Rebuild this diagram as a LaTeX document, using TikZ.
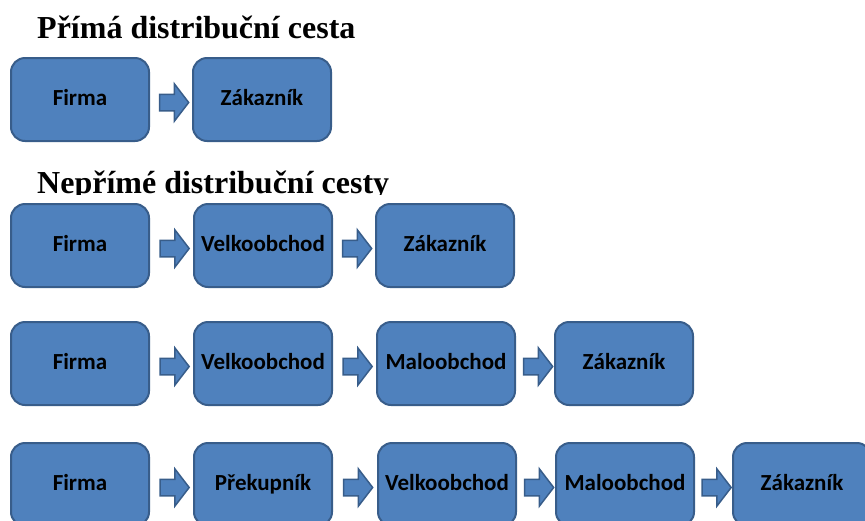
\documentclass[tikz,border=0pt]{standalone}
\usepackage{fontspec}
\setmainfont{Liberation Serif}
\newfontfamily\calibrifont{Carlito}
\usepackage{xcolor}
\usepackage{tikz}
\usetikzlibrary{
    positioning,
    calc,
    shapes.arrows
}
\definecolor{boxblue}{RGB}{79,129,189}
\definecolor{boxline}{RGB}{56,93,138}
\tikzset{
    block/.style={
        rectangle, draw=boxline, line width=2pt,
        fill=boxblue, rounded corners=14pt,
        minimum width=138pt, minimum height=83pt, align=center,
        text height=15pt, text depth=4pt,
        font=\calibrifont\bfseries\fontsize{23}{27}\selectfont
    },
    block_arrow/.style={
        single arrow, draw=boxline, line width=1.5pt, fill=boxblue,
        minimum height=29pt, inner sep=7.5pt,
        single arrow head extend=10.5pt, single arrow tip angle=105,
        yshift=-3pt
    },
    title_text/.style={
        anchor=base west, inner sep=0pt,
        font=\bfseries\fontsize{32}{38}\selectfont
    }
}

\begin{document}
\begin{tikzpicture}
    \clip (0,0) rectangle (865pt,-520pt);

    % Title
    \node[title_text] (title_direct) at (37pt,-38pt) {Přímá distribuční cesta};
    \begin{scope}
        \clip (0,-150pt) rectangle (865pt,-194pt);
        \node[title_text] (title_indirect) at (37pt,-193pt) {Nepřímé distribuční cesty};
    \end{scope}

    % Row 1
    \node[block] (firma1) at (80pt,-99.5pt) {Firma};
    \node[block, right=42pt of firma1] (zakaznik1) {Zákazník};

    % Row 2
    \node[block] (firma2) at (80pt,-245.5pt) {Firma};
    \node[block, right=43pt of firma2] (velko2) {Velkoobchod};
    \node[block, right=42pt of velko2] (zakaznik2) {Zákazník};

    % Row 3
    \node[block] (firma3) at (80pt,-363.5pt) {Firma};
    \node[block, right=43pt of firma3] (velko3) {Velkoobchod};
    \node[block, right=43pt of velko3] (malo3) {Maloobchod};
    \node[block, right=38pt of malo3] (zakaznik3) {Zákazník};

    % Row 4
    \node[block] (firma4) at (80pt,-484.5pt) {Firma};
    \node[block, right=43pt of firma4] (prekup4) {Překupník};
    \node[block, right=44pt of prekup4] (velko4) {Velkoobchod};
    \node[block, right=38pt of velko4] (malo4) {Maloobchod};
    \node[block, right=37pt of malo4] (zakaznik4) {Zákazník};

    % Arrows between blocks
    \node[block_arrow] (arr1a) at ($(firma1.east)!0.5!(zakaznik1.west)$) {};
    \node[block_arrow] (arr2a) at ($(firma2.east)!0.5!(velko2.west)$) {};
    \node[block_arrow] (arr2b) at ($(velko2.east)!0.5!(zakaznik2.west)$) {};
    \node[block_arrow] (arr3a) at ($(firma3.east)!0.5!(velko3.west)$) {};
    \node[block_arrow] (arr3b) at ($(velko3.east)!0.5!(malo3.west)$) {};
    \node[block_arrow] (arr3c) at ($(malo3.east)!0.5!(zakaznik3.west)$) {};
    \node[block_arrow] (arr4a) at ($(firma4.east)!0.5!(prekup4.west)$) {};
    \node[block_arrow] (arr4b) at ($(prekup4.east)!0.5!(velko4.west)$) {};
    \node[block_arrow] (arr4c) at ($(velko4.east)!0.5!(malo4.west)$) {};
    \node[block_arrow] (arr4d) at ($(malo4.east)!0.5!(zakaznik4.west)$) {};

\end{tikzpicture}
\end{document}
